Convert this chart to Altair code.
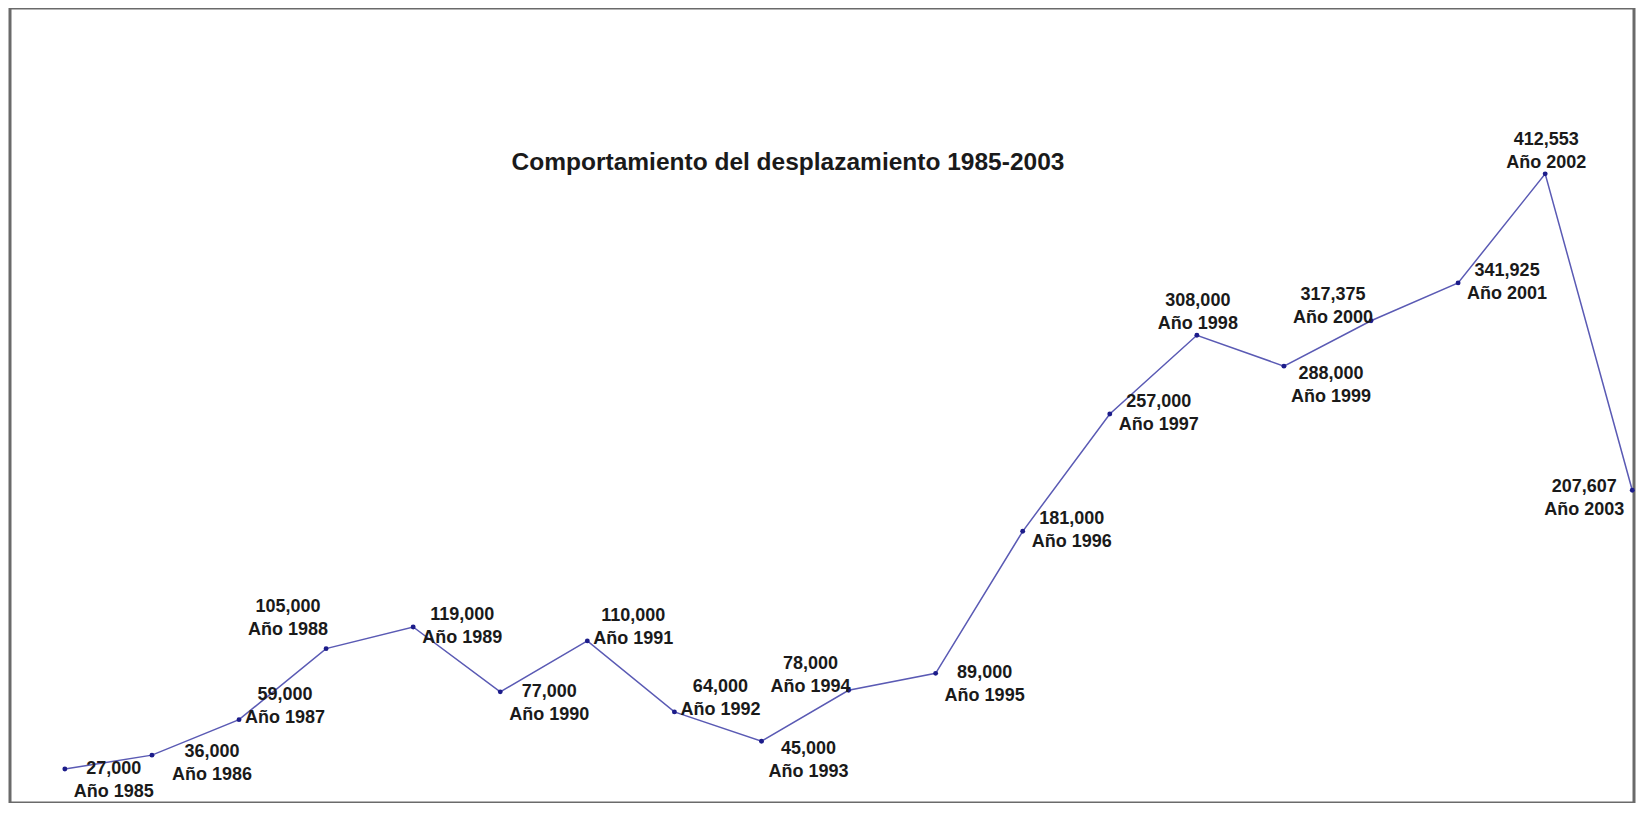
import altair as alt
import pandas as pd

# ---- data ----
anios = [1985, 1986, 1987, 1988, 1989, 1990, 1991, 1992, 1993, 1994,
         1995, 1996, 1997, 1998, 1999, 2000, 2001, 2002, 2003]
desplazados = [27000, 36000, 59000, 105000, 119000, 77000, 110000, 64000, 45000, 78000,
               89000, 181000, 257000, 308000, 288000, 317375, 341925, 412553, 207607]
titulo = "Comportamiento del desplazamiento 1985-2003"

# ---- label placement (style) ----
posicion = {
    1985: "der_abajo", 1986: "der_abajo2", 1987: "der_arriba", 1988: "izq_arriba2",
    1989: "der", 1990: "der_abajo", 1991: "der_arriba", 1992: "der_arriba",
    1993: "der_abajo3", 1994: "izq_arriba", 1995: "der_abajo", 1996: "der",
    1997: "der", 1998: "arriba", 1999: "der_abajo3", 2000: "izq_arriba",
    2001: "der", 2002: "arriba", 2003: "izq",
}
offsets = {  # (dx, dy of first line)
    "der": (49, -12),
    "der_abajo": (49, 0),
    "der_abajo2": (60, -3),
    "der_abajo3": (47, 8),
    "der_arriba": (46, -25),
    "arriba": (1, -34),
    "izq_arriba": (-38, -26),
    "izq_arriba2": (-38, -42),
    "izq": (-48, -3),
}

df = pd.DataFrame({
    "anio": anios,
    "valor": desplazados,
})
df["lab_valor"] = [f"{v:,}" for v in desplazados]
df["lab_anio"] = [f"Año {a}" for a in anios]
df["pos"] = [posicion[a] for a in anios]

LINE = "#5a5ab4"
DOT = "#1c1c8a"
FONT = "Liberation Sans"

x = alt.X("anio:Q", scale=alt.Scale(domain=[1984.37, 2003.02], nice=False, zero=False), axis=None)
y = alt.Y("valor:Q", scale=alt.Scale(domain=[5000, 520000], nice=False, zero=False), axis=None)

base = alt.Chart(df)
linea = base.mark_line(color=LINE, strokeWidth=1.5).encode(x=x, y=y)
puntos = base.mark_point(filled=True, color=DOT, size=24, opacity=1).encode(x=x, y=y)

capas = [linea, puntos]
for nombre, (dx, dy) in offsets.items():
    sub = base.transform_filter(alt.datum.pos == nombre)
    capas.append(sub.mark_text(font=FONT, fontSize=18, fontWeight="bold", color="#1a1a1a",
                               align="center", baseline="middle", dx=dx, dy=dy
                               ).encode(x=x, y=y, text="lab_valor:N"))
    capas.append(sub.mark_text(font=FONT, fontSize=18, fontWeight="bold", color="#1a1a1a",
                               align="center", baseline="middle", dx=dx, dy=dy + 23
                               ).encode(x=x, y=y, text="lab_anio:N"))

tit = alt.Chart(pd.DataFrame({"t": [titulo]})).mark_text(
    font=FONT, fontSize=24.5, fontWeight="bold", color="#1a1a1a", align="center", baseline="middle"
).encode(text="t:N", x=alt.value(778), y=alt.value(155))
capas.append(tit)

chart = alt.layer(*capas).properties(
    width=1624, height=795,
    background="white",
    autosize=alt.AutoSizeParams(type="none"),
    padding={"left": 2, "right": 2, "top": 0, "bottom": 0},
).configure_view(stroke="#6a6a6a", strokeWidth=3)

chart.save("out.html", embed_options={"renderer": "svg", "actions": False})
